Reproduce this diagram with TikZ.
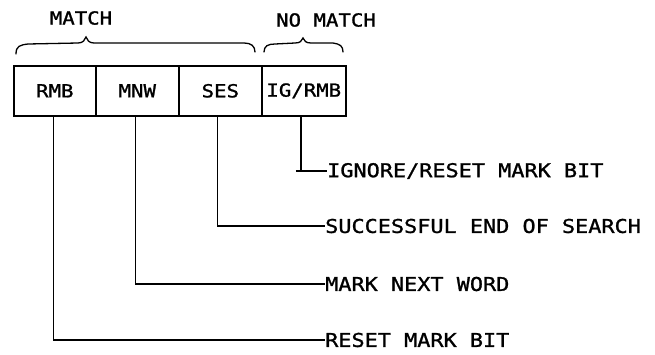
\documentclass[tikz,border=0pt]{standalone}
\usepackage{fontspec}
\newfontfamily\lpfont[FakeStretch=1.15,FakeBold=1.2]{DejaVu Sans Mono}
\begin{document}
\begin{tikzpicture}[x=1pt,y=-1pt,
  cell/.style={draw, line width=1.6pt, minimum width=#1, minimum height=50pt, inner sep=0pt, anchor=north west, font=\lpfont\fontsize{18}{18}\selectfont},
  lbl/.style={anchor=west, inner sep=0pt, font=\lpfont\fontsize{19}{19}\selectfont},
  hdr/.style={inner sep=0pt, font=\lpfont\fontsize{18}{18}\selectfont},
  conn/.style={line width=1.3pt},
  brc/.style={line width=1.3pt, line cap=round}]
\useasboundingbox (0,0) rectangle (655,354);
% register cells
\node[cell=82pt] (rmb) at (13,65) {RMB};
\node[cell=83pt] (mnw) at (95,65) {MNW};
\node[cell=83pt] (ses) at (178,65) {SES};
\node[cell=84pt] (ig) at (261,65) {IG/RMB};
% headers
\node[hdr] (match) at (81,18) {MATCH};
\node[hdr] (nomatch) at (326,20) {NO MATCH};
% braces
\draw[brc] (16,54) .. controls (16,46) and (20,45) .. (28,44) -- (78,43) .. controls (83,43) and (85,40) .. (86,37)
  .. controls (87,40) and (89,43) .. (94,43) -- (244,43) .. controls (251,43) and (255,46) .. (255,52);
\draw[brc] (264,52) .. controls (264,46) and (268,44) .. (275,44) -- (295,43) .. controls (300,43) and (302,41) .. (303,38)
  .. controls (304,41) and (306,43) .. (311,43) -- (333,43) .. controls (340,44) and (343,46) .. (343,52);
% labels
\node[lbl] (l1) at (327,171) {IGNORE/RESET MARK BIT};
\node[lbl] (l2) at (325,226) {SUCCESSFUL END OF SEARCH};
\node[lbl] (l3) at (325,284) {MARK NEXT WORD};
\node[lbl] (l4) at (325,340) {RESET MARK BIT};
% connectors
\draw[conn] ([xshift=-1pt]rmb.south) |- (l4.west);
\draw[conn] ([xshift=-2pt]mnw.south) |- (l3.west);
\draw[conn] ([xshift=-3pt]ses.south) |- (l2.west);
\draw[conn, line width=1.6pt] ([xshift=-3pt]ig.south) |- (l1.west);
\draw[conn] ([xshift=-3pt]ig.south |- l1.west) ++(-5,0) -- ++(6,0);
\end{tikzpicture}
\end{document}
